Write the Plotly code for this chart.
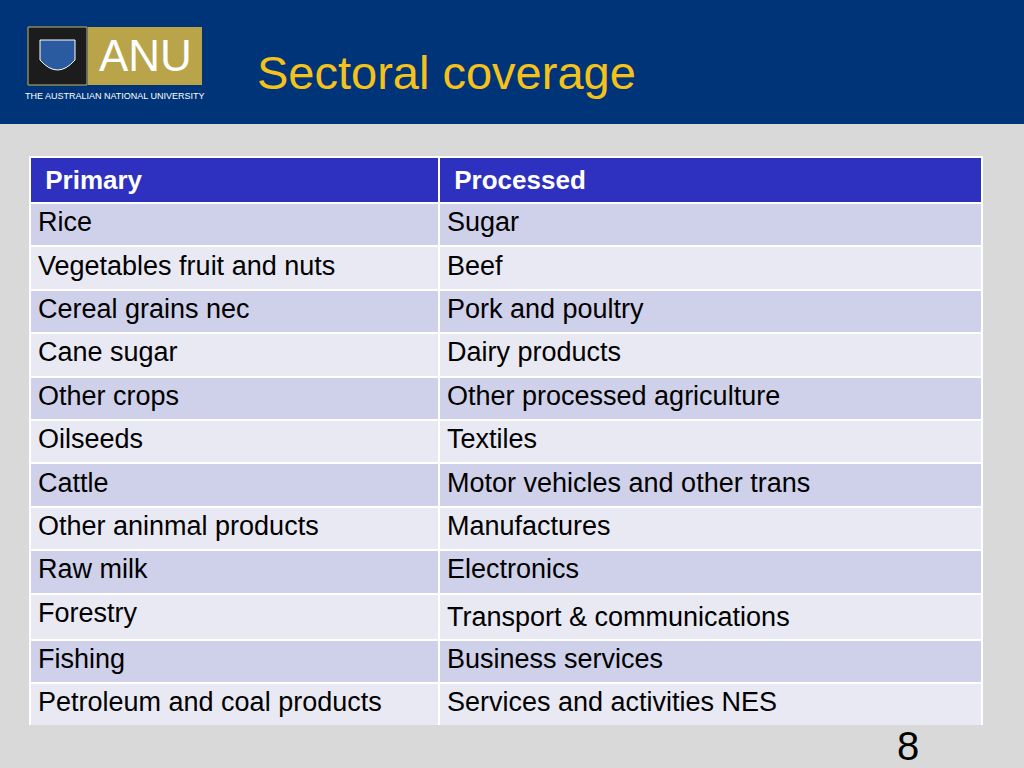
import plotly.graph_objects as go

headers = ["Primary", "Processed"]
primary = ["Rice", "Vegetables fruit and nuts", "Cereal grains nec", "Cane sugar", "Other crops",
           "Oilseeds", "Cattle", "Other aninmal products", "Raw milk", "Forestry", "Fishing",
           "Petroleum and coal products"]
processed = ["Sugar", "Beef", "Pork and poultry", "Dairy products", "Other processed agriculture",
             "Textiles", "Motor vehicles and other trans", "Manufactures", "Electronics",
             "Transport &amp; communications", "Business services", "Services and activities NES"]

W, H = 1024, 768
fills = [["#cfd0e9" if i % 2 == 0 else "#e9e9f3" for i in range(len(primary))]] * 2

fig = go.Figure(go.Table(
    domain=dict(x=[30/W, 982/W], y=[1-725/H, 1-157/H]),
    columnwidth=[409, 543],
    header=dict(values=[f"&nbsp;<b>{h}</b>" for h in headers], fill_color="#2e31c0",
                line=dict(color="white", width=2), align="left", height=43,
                font=dict(family="Liberation Sans, Arial", size=26, color="white")),
    cells=dict(values=[primary, processed], fill_color=fills,
               line=dict(color="white", width=2), align="left", height=43.4,
               font=dict(family="Liberation Sans, Arial", size=27, color="black"))
))

shapes = [
    dict(type="rect", xref="paper", yref="paper", x0=0, x1=1, y0=1-124/H, y1=1,
         fillcolor="#003479", line_width=0, layer="below"),
    dict(type="rect", xref="paper", yref="paper", x0=28/W, x1=87/W, y0=1-85/H, y1=1-27/H,
         fillcolor="#1c1c1c", line=dict(color="#c8b560", width=1)),
    dict(type="rect", xref="paper", yref="paper", x0=88/W, x1=202/W, y0=1-85/H, y1=1-27/H,
         fillcolor="#b9a44a", line_width=0),
    dict(type="path", xref="paper", yref="paper",
         path=f"M {40/W},{1-40/H} L {75/W},{1-40/H} L {75/W},{1-60/H} Q {57.5/W},{1-80/H} {40/W},{1-60/H} Z",
         fillcolor="#2a5aa0", line=dict(color="white", width=1)),
]
ann = [
    dict(text="ANU", x=145/W, y=1-56/H, xref="paper", yref="paper", showarrow=False,
         xanchor="center", yanchor="middle",
         font=dict(family="Liberation Sans", size=44, color="white")),
    dict(text="THE AUSTRALIAN NATIONAL UNIVERSITY", x=115/W, y=1-96/H, xref="paper", yref="paper",
         xanchor="center", yanchor="middle",
         showarrow=False, font=dict(family="Liberation Sans", size=9, color="white")),
    dict(text="Sectoral coverage", x=255/W, y=1-72/H, xref="paper", yref="paper", xanchor="left",
         yanchor="middle",
         showarrow=False, font=dict(family="Liberation Sans", size=47, color="#f5c21a")),
    dict(text="8", x=908/W, y=1-746/H, xref="paper", yref="paper", showarrow=False,
         xanchor="center", yanchor="middle",
         font=dict(family="Liberation Sans", size=40, color="black")),
]
fig.update_layout(width=W, height=H, margin=dict(l=0, r=0, t=0, b=0),
                  paper_bgcolor="#d9d9d9", plot_bgcolor="#d9d9d9",
                  shapes=shapes, annotations=ann)
fig.write_html("out.html", config={"displayModeBar": False},
               post_script="document.body.style.margin='0';")
